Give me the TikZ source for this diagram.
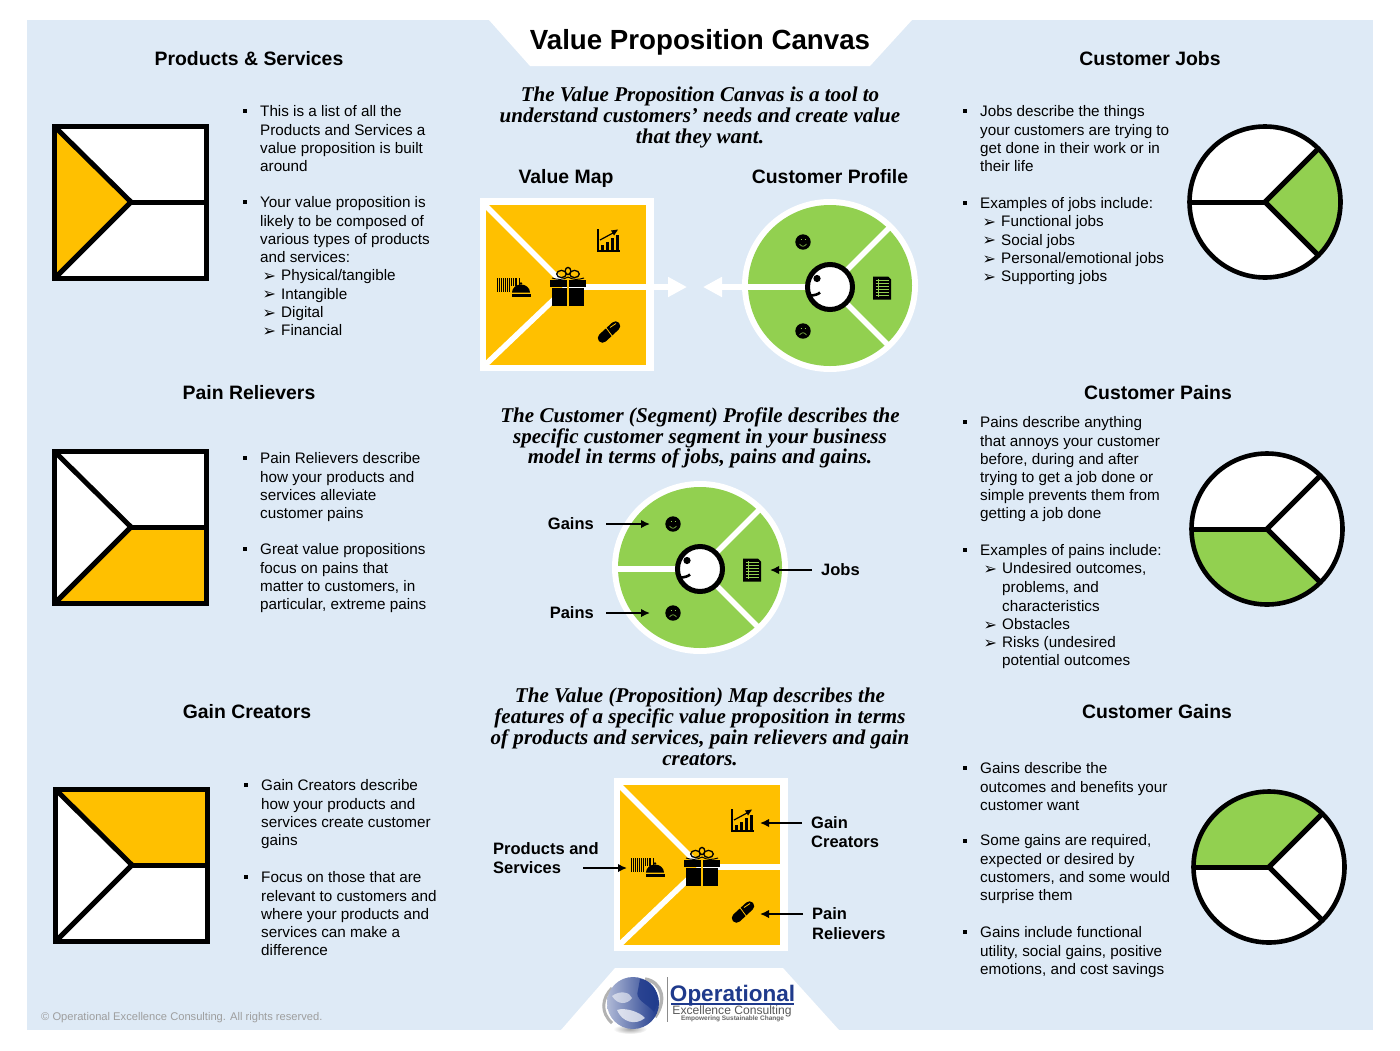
\documentclass[tikz,border=0pt]{standalone}
\usepackage{fontspec}
\usepackage{xcolor}
\usepackage{tikz}
\usetikzlibrary{calc}
\usetikzlibrary{arrows.meta}
\setmainfont{Liberation Sans}
\newfontfamily\canvasserif{Liberation Serif}
\newfontfamily\symbolfont{DejaVu Sans}
\definecolor{canvasblue}{HTML}{DEEAF6}
\definecolor{mapgold}{HTML}{FFC000}
\definecolor{wheelgreen}{HTML}{92D050}
\definecolor{logoblue}{HTML}{1F3A8C}
\newcommand{\subarr}{\makebox[17pt][l]{\hspace*{-1.5pt}\raisebox{-0.8pt}{\symbolfont\fontsize{16}{16}\selectfont ➢}}}
\newcommand{\subgap}{\hspace*{17pt}}
\tikzset{
	headline/.style={font=\bfseries\fontsize{19.4}{22}\selectfont,inner sep=0pt},
	bodytext/.style={font=\fontsize{15.25}{18.2}\selectfont,align=left,anchor=north west,inner sep=0pt,yshift=-2.7pt,execute at begin node=\strut},
	introtext/.style={font=\canvasserif\bfseries\itshape\fontsize{21.05}{20.8}\selectfont,align=center,inner sep=0pt},
	calloutlabel/.style={font=\bfseries\fontsize{16.5}{19}\selectfont,inner ysep=0pt,inner xsep=9pt},
	sqbullet/.style={fill=black,inner sep=0pt,minimum size=4.5pt},
	calloutarrow/.style={-{Latex[length=9pt,width=8.5pt]},line width=1.6pt},
	whitespoke/.style={white,line width=5.6pt},
	blackspoke/.style={black,line width=5pt},
	whitearrow/.style={-{Triangle[length=19pt,width=19pt]},white,line width=5.6pt},
	gifticon/.pic={
		\fill[black] (-18,-7) rectangle (18,0);
		\fill[black] (-16,1) rectangle (16,19);
		\fill[mapgold] (-0.8,-7) rectangle (0.8,19);
		\draw[black,line width=1.3pt] (-6.5,-13) ellipse (4.8 and 3.6);
		\draw[black,line width=1.3pt] (6.5,-13) ellipse (4.8 and 3.6);
		\draw[black,line width=1.3pt] (0,-16) ellipse (2.8 and 3.6);
		\draw[black,line width=1pt] (0,-10) .. controls (-5,-7) and (-10,-7) .. (-16,-9);
		\draw[black,line width=1pt] (0,-10) .. controls (5,-7) and (10,-7) .. (16,-9);
	},
	barcodebell/.pic={
		\foreach \barx/\barw in {0/1.2,2.3/0.6,3.8/1.4,6.2/0.6,7.8/1.1,10/0.6,11.5/1.4,14/0.6,15.6/1.1,17.6/0.6,19/1.4,21.6/0.7}
			\fill[black] (\barx,0) rectangle ({\barx+\barw},14);
		\fill[mapgold] (13,8) rectangle (27,20);
		\fill[black] (15,14.5) arc (180:360:9 and 8) -- cycle;
		\fill[black] (24,5.5) circle (1.3);
		\fill[black] (14.5,16) rectangle (33.5,18.5);
	},
	charticon/.pic={
		\draw[black,line width=1.2pt] (-11,-11) -- (-11,11) -- (11,11);
		\foreach \barx/\bartop in {-8.5/5,-3.5/2,1.5/-2,6.5/-5}
			\fill[black] (\barx,\bartop) rectangle ({\barx+3.8},9.5);
		\draw[black,line width=1.2pt] (-9,0) -- (4,-7);
		\fill[black] (9,-10.5) -- (2,-9.5) -- (5,-4.5) -- cycle;
	},
	pillicon/.pic={
		\draw[black,line width=9.5pt,line cap=round] (-6.5,6) -- (6.5,-6);
		\draw[mapgold,line width=0.8pt] (-3.5,-5) -- (3.5,4.5);
		\draw[mapgold,line width=0.8pt] (1,-4.5) -- (7,-8.5);
	},
	smileicon/.pic={
		\fill[black] (0,0) circle (7.7);
		\draw[wheelgreen,line width=0.6pt] (-3.5,2) .. controls (-1.5,5) and (1.5,5) .. (3.5,2);
		\draw[wheelgreen,line width=0.6pt] (-2.5,-2.5) -- (-1.5,-2.5);
		\draw[wheelgreen,line width=0.6pt] (1.5,-2.5) -- (2.5,-2.5);
	},
	frownicon/.pic={
		\fill[black] (0,0) circle (7.7);
		\draw[wheelgreen,line width=0.6pt] (-3.5,4) .. controls (-1.5,1) and (1.5,1) .. (3.5,4);
		\draw[wheelgreen,line width=0.6pt] (-2.5,-2.5) -- (-1.5,-2.5);
		\draw[wheelgreen,line width=0.6pt] (1.5,-2.5) -- (2.5,-2.5);
	},
	docicon/.pic={
		\fill[black] (-9,-11.5) -- (6,-11.5) -- (9,-8.5) -- (9,11.5) -- (-9,11.5) -- cycle;
		\foreach \liney in {-7.5,-4.5,-1.5,1.5,4.5,7.5}
			\draw[wheelgreen,line width=0.7pt] (-6.5,\liney) -- (6.5,\liney);
		\draw[wheelgreen,line width=0.7pt] (-3.5,-9) -- (-3.5,9);
	}
}
% small black outlined box, #2 is the part that gets the colour
\newcommand{\mapicon}[2]{
	\begin{scope}[shift={(#1)}]
		\fill[white] (2,2) rectangle (155,155);
		\fill[mapgold] #2;
		\draw[blackspoke] (2,2) -- (79,78);
		\draw[blackspoke] (2,155) -- (79,78);
		\draw[blackspoke] (79,78) -- (155,78);
		\draw[black,line width=5pt] (2.5,2.5) rectangle (154.5,154.5);
	\end{scope}
}
% small black outlined circle, #2 is the wedge that gets the colour
\newcommand{\wheelicon}[2]{
	\begin{scope}[shift={(#1)}]
		\fill[white] (0,0) circle (76);
		\fill[wheelgreen] (0,0) -- #2 -- cycle;
		\draw[blackspoke] (0,0) -- (-45:76);
		\draw[blackspoke] (0,0) -- (45:76);
		\draw[blackspoke] (0,0) -- (180:76);
		\draw[black,line width=4.6pt] (0,0) circle (75.5);
	\end{scope}
}
% big value map, #1 is the centre
\newcommand{\bigmap}[1]{
	\begin{scope}[shift={(#1)}]
		\fill[white] (-87.5,-89) rectangle (86.5,84);
		\fill[mapgold] (-81,-82) rectangle (79,78);
		\draw[whitespoke] (-85,-85) -- (0,0);
		\draw[whitespoke] (-85,81) -- (0,0);
		\draw[whitespoke] (0,0) -- (80,0);
		\pic at (1,0) {gifticon};
		\pic at (-70,-9) {barcodebell};
		\pic at (42,-47) {charticon};
		\pic at (42,45) {pillicon};
	\end{scope}
}
% big customer wheel, #1 is the centre
\newcommand{\bigwheel}[1]{
	\begin{scope}[shift={(#1)}]
		\fill[white] (0,-1.5) ellipse (88 and 86.5);
		\fill[wheelgreen] (0,-1.5) ellipse (82 and 80.5);
		\draw[whitespoke] (0,0) -- (-45:84);
		\draw[whitespoke] (0,0) -- (45:84);
		\draw[whitespoke] (0,0) -- (180:85);
		\fill[white] (0,0) circle (22.5);
		\draw[black,line width=5pt] (0,0) circle (22.5);
		\fill[black] (-13,-8.5) circle (3.6);
		\draw[black,line width=2.6pt] (-20,8.5) .. controls (-16,8.5) and (-12,7.5) .. (-10,5.5);
		\pic at (-27,-45) {smileicon};
		\pic at (-27,44) {frownicon};
		\pic at (52,1) {docicon};
	\end{scope}
}
\begin{document}
\begin{tikzpicture}[x=1pt,y=-1pt]
	\useasboundingbox (0,0) rectangle (1400,1050);
	\fill[canvasblue] (27,20) rectangle (1373,1030);
	\fill[white] (489,20) -- (530,66) -- (870,66) -- (912,20) -- cycle;
	\fill[white] (561,1030) -- (615,968) -- (783,968) -- (839,1030) -- cycle;
	\node[font=\bfseries\fontsize{27.7}{30}\selectfont,inner sep=0pt] (maintitle) at (700,42) {Value Proposition Canvas};
	% left column
	\node[headline] (prodtitle) at (249,59) {Products \& Services};
	\node[headline] (paintitle) at (249,393) {Pain Relievers};
	\node[headline] (gaintitle) at (247,712) {Gain Creators};
	\mapicon{52,124}{(2,2) -- (79,78) -- (2,155) -- cycle}
	\mapicon{52,449}{(79,78) -- (155,78) -- (155,155) -- (2,155) -- cycle}
	\mapicon{53,787}{(2,2) -- (155,2) -- (155,78) -- (79,78) -- cycle}
	\foreach \yy in {111,202,458,549} \node[sqbullet] (leftbul\yy) at (245,\yy) {};
	\foreach \yy in {785,877} \node[sqbullet] (leftbul\yy) at (246,\yy) {};
	\node[bodytext] (prodone) at (260,103) {This is a list of all the\\Products and Services a\\value proposition is built\\around};
	\node[bodytext] (prodtwo) at (260,194) {Your value proposition is\\likely to be composed of\\various types of products\\and services:};
	\node[bodytext] (prodsub) at (264,267) {\subarr Physical/tangible\\\subarr Intangible\\\subarr Digital\\\subarr Financial};
	\node[bodytext] (painone) at (260,450) {Pain Relievers describe\\how your products and\\services alleviate\\customer pains};
	\node[bodytext] (paintwo) at (260,541) {Great value propositions\\focus on pains that\\matter to customers, in\\particular, extreme pains};
	\node[bodytext] (gainone) at (261,777) {Gain Creators describe\\how your products and\\services create customer\\gains};
	\node[bodytext] (gaintwo) at (261,869) {Focus on those that are\\relevant to customers and\\where your products and\\services can make a\\difference};
	% right column
	\node[headline] (jobstitle) at (1150,59) {Customer Jobs};
	\node[headline] (cpaintitle) at (1158,393) {Customer Pains};
	\node[headline] (cgaintitle) at (1157,712) {Customer Gains};
	\wheelicon{1265,202}{(-45:76) arc (-45:45:76)}
	\wheelicon{1267,529}{(180:76) arc (180:45:76)}
	\wheelicon{1269,867}{(-45:76) arc (-45:-180:76)}
	\foreach \yy in {111,203,422,550,768,841,932} \node[sqbullet] (rightbul\yy) at (965,\yy) {};
	\node[bodytext] (jobsone) at (980,103) {Jobs describe the things\\your customers are trying to\\get done in their work or in\\their life};
	\node[bodytext] (jobstwo) at (980,193) {Examples of jobs include:};
	\node[bodytext] (jobssub) at (984,213) {\subarr Functional jobs\\\subarr Social jobs\\\subarr Personal/emotional jobs\\\subarr Supporting jobs};
	\node[bodytext] (cpainone) at (980,414) {Pains describe anything\\that annoys your customer\\before, during and after\\trying to get a job done or\\simple prevents them from\\getting a job done};
	\node[bodytext] (cpaintwo) at (980,540) {Examples of pains include:};
	\node[bodytext] (cpainsub) at (985,560) {\subarr Undesired outcomes,\\\subgap problems, and\\[1pt]\subgap characteristics\\\subarr Obstacles\\\subarr Risks (undesired\\\subgap potential outcomes};
	\node[bodytext] (cgainone) at (980,760) {Gains describe the\\outcomes and benefits your\\customer want};
	\node[bodytext] (cgaintwo) at (980,832) {Some gains are required,\\expected or desired by\\customers, and some would\\surprise them};
	\node[bodytext] (cgainthree) at (980,924) {Gains include functional\\utility, social gains, positive\\emotions, and cost savings};
	% centre, top
	\node[introtext] (introone) at (700,117.5) {The Value Proposition Canvas is a tool to\\understand customers’ needs and create value\\that they want.};
	\node[headline] (maptitle) at (566,178) {Value Map};
	\node[headline] (profiletitle) at (830,177) {Customer Profile};
	\bigmap{567,287}
	\bigwheel{830,287}
	\coordinate (maptail) at (600,287);
	\coordinate (maptip) at (687,287);
	\coordinate (wheeltail) at (805,287);
	\coordinate (wheeltip) at (703,287);
	\draw[whitearrow] (maptail) -- (maptip);
	\draw[whitearrow] (wheeltail) -- (wheeltip);
	% centre, middle
	\node[introtext] (introtwo) at (700,438) {The Customer (Segment) Profile describes the\\specific customer segment in your business\\model in terms of jobs, pains and gains.};
	\bigwheel{700,569}
	\node[calloutlabel,anchor=east] (gainslbl) at (603,524) {Gains};
	\node[calloutlabel,anchor=east] (painslbl) at (603,613) {Pains};
	\node[calloutlabel,anchor=west] (jobslbl) at (812,570) {Jobs};
	\coordinate (gainstip) at (650,524);
	\coordinate (painstip) at (650,613);
	\coordinate (jobstip) at (770,570);
	\draw[calloutarrow,shorten <=3pt] (gainslbl) -- (gainstip);
	\draw[calloutarrow,shorten <=3pt] (painslbl) -- (painstip);
	\draw[calloutarrow] (jobslbl) -- (jobstip);
	% centre, bottom
	\node[introtext] (introthree) at (700,727) {The Value (Proposition) Map describes the\\features of a specific value proposition in terms\\of products and services, pain relievers and gain\\creators.};
	\bigmap{701,867}
	\node[calloutlabel,anchor=west,inner xsep=0pt] (prodlbl) at (493,849) {Products and};
	\node[calloutlabel,anchor=west,inner xsep=0pt] (serviceslbl) at (493,868) {Services};
	\node[calloutlabel,anchor=west] (gclbl) at (802,823) {Gain};
	\node[calloutlabel,anchor=west,inner xsep=0pt] (creatorslbl) at (811,842) {Creators};
	\node[calloutlabel,anchor=west] (prlbl) at (803,914) {Pain};
	\node[calloutlabel,anchor=west,inner xsep=0pt] (relieverslbl) at (812,934) {Relievers};
	\coordinate (servicestip) at (627,868);
	\coordinate (gctip) at (760,823);
	\coordinate (prtip) at (760,914);
	\draw[calloutarrow,shorten <=22pt] (serviceslbl) -- (servicestip);
	\draw[calloutarrow] (gclbl) -- (gctip);
	\draw[calloutarrow] (prlbl) -- (prtip);
	% logo
	\shade[inner color=black!35,outer color=white] (630,1029) ellipse (17 and 5);
	\draw[black!30,line width=3pt] (612,1023) .. controls (600,1012) and (602,998) .. (612,988);
	\draw[black!30,line width=3.5pt] (645,979) .. controls (662,982) and (667,1000) .. (655,1017);
	\shade[left color=logoblue!35!white,right color=logoblue] (633,1003) circle (26);
	\fill[logoblue,opacity=0.8] (640,979) .. controls (655,980) and (662,998) .. (654,1012) .. controls (648,1004) and (634,1000) .. (638,990) -- cycle;
	\fill[white,opacity=0.55] (612,996) .. controls (620,990) and (630,992) .. (632,998) .. controls (628,1004) and (618,1006) .. (612,996);
	\fill[white,opacity=0.7] (617,1010) .. controls (625,1007) and (640,1012) .. (645,1018) .. controls (635,1026) and (622,1022) .. (617,1010);
	\draw[black!45,line width=0.8pt] (667,977) -- (667,1022);
	\node[font=\bfseries\fontsize{22.5}{24}\selectfont,text=logoblue,inner sep=0pt] (logoname) at (732.5,996) {Operational};
	\draw[logoblue,line width=1.1pt] (671,1004) -- (794,1004);
	\node[font=\fontsize{12.1}{14}\selectfont,text=black!65,inner sep=0pt] (logosub) at (732,1011) {Excellence Consulting};
	\node[font=\bfseries\fontsize{6.5}{7}\selectfont,text=black!60,inner sep=0pt] (logotag) at (732.5,1019) {Empowering Sustainable Change};
	\node[font=\fontsize{11.15}{12}\selectfont,text=black!38,anchor=west,inner sep=0pt] (copyline) at (41,1018) {© Operational Excellence Consulting. All rights reserved.};
\end{tikzpicture}
\end{document}
